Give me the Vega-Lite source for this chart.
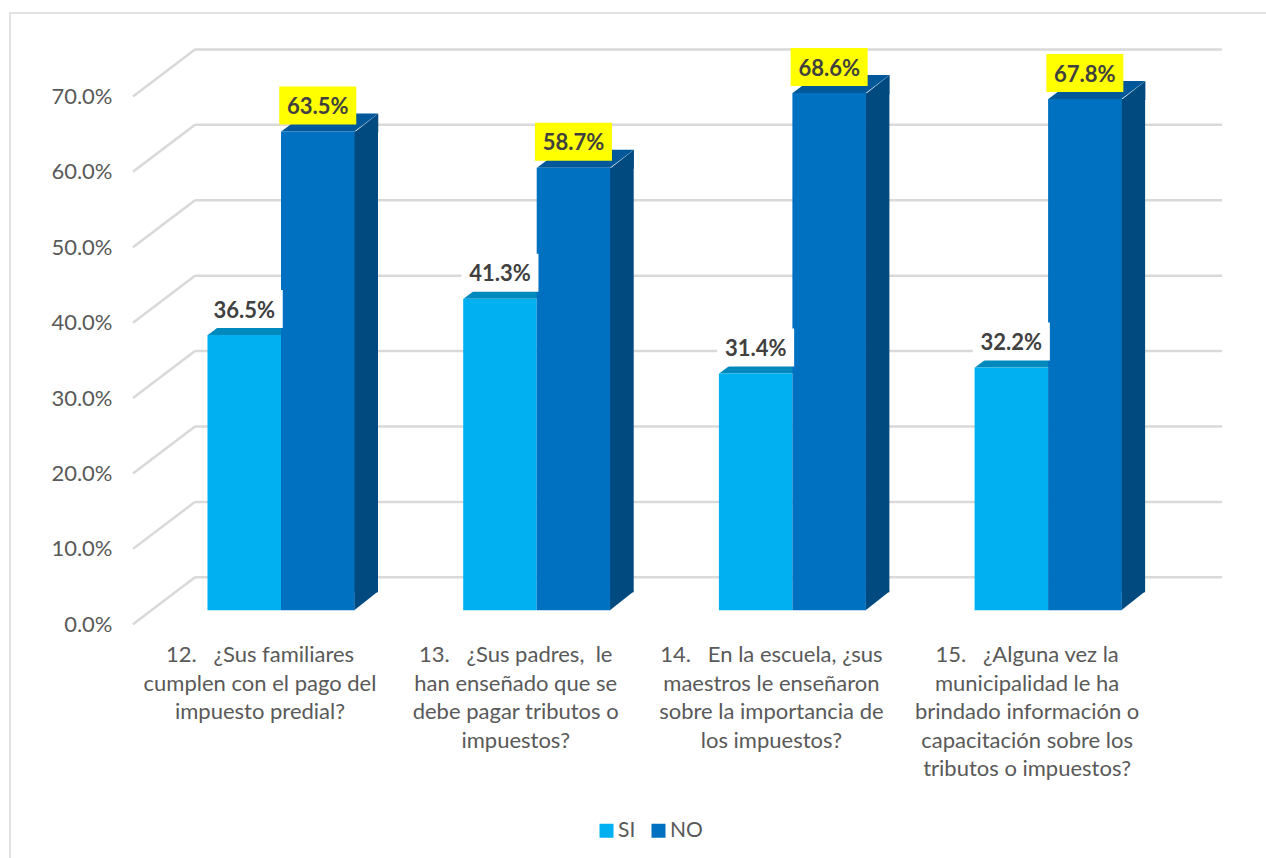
{
"$schema":"https://vega.github.io/schema/vega-lite/v6.json",
"width":1260,"height":850,"autosize":{"type":"none"},
"padding":{"left":10,"top":13,"right":0,"bottom":0},
"background":"white",
"view":{"stroke":"#d9d9d9","strokeWidth":1.5,"fill":"white"},
"datasets":{
"respuestas":[
{"pregunta":12,"serie":"SI","valor":0.365},{"pregunta":12,"serie":"NO","valor":0.635},
{"pregunta":13,"serie":"SI","valor":0.413},{"pregunta":13,"serie":"NO","valor":0.587},
{"pregunta":14,"serie":"SI","valor":0.314},{"pregunta":14,"serie":"NO","valor":0.686},
{"pregunta":15,"serie":"SI","valor":0.322},{"pregunta":15,"serie":"NO","valor":0.678}],
"marcas":[{"valor":0},{"valor":0.1},{"valor":0.2},{"valor":0.3},{"valor":0.4},{"valor":0.5},{"valor":0.6},{"valor":0.7}],
"etiquetas":[
{"pregunta":12,"texto":["12.\u00a0\u00a0\u00a0¿Sus familiares","cumplen con el pago del","impuesto predial?"]},
{"pregunta":13,"texto":["13.\u00a0\u00a0\u00a0¿Sus padres,\u00a0 le","han enseñado que se","debe pagar tributos o","impuestos?"]},
{"pregunta":14,"texto":["14.\u00a0\u00a0\u00a0En la escuela, ¿sus","maestros le enseñaron","sobre la importancia de","los impuestos?"]},
{"pregunta":15,"texto":["15.\u00a0\u00a0\u00a0¿Alguna vez la","municipalidad le ha","brindado información o","capacitación sobre los","tributos o impuestos?"]}]
},
"layer":[
{"data":{"name":"marcas"},"mark":{"type":"rule","color":"#d9d9d9","strokeWidth":2.5,"yOffset":-47},
 "encoding":{"x":{"datum":11.7458,"type":"quantitative","scale":{"domain":[11.0223,15.9499],"nice":false,"zero":false,"padding":0},"axis":null},"x2":{"datum":15.7622},
 "y":{"field":"valor","type":"quantitative","scale":{"domain":[-0.3166,0.8107],"nice":false,"zero":false,"padding":0},
 "axis":{"title":null,"values":[0,0.1,0.2,0.3,0.4,0.5,0.6,0.7],"format":".1%","offset":-110,"domain":false,"ticks":false,"grid":false,"labelPadding":8,"labelFont":"Lato","labelFontSize":22,"labelColor":"#595959"}}}},
{"data":{"name":"marcas"},"mark":{"type":"rule","color":"#d9d9d9","strokeWidth":2.5,"y2Offset":-47},
 "encoding":{"x":{"datum":11.5033,"type":"quantitative"},"x2":{"datum":11.7458},"y":{"field":"valor","type":"quantitative"},"y2":{"field":"valor"}}},
{"data":{"name":"respuestas"},"transform":[{"filter":"datum.serie=='NO'"}],"mark":{"type":"bar","width":24,"color":"#004a80","xOffset":106,"yOffset":-14,"y2Offset":-32},
 "encoding":{"x":{"field":"pregunta","type":"quantitative"},"y":{"field":"valor","type":"quantitative"},"y2":{"datum":0}}},
{"data":{"name":"respuestas"},"transform":[{"filter":"datum.serie=='NO'"}],"mark":{"type":"point","filled":true,"opacity":1,"size":4,"color":"#004a80","xOffset":57.75,"yOffset":-14,"shape":"M36.5,1L60.5,-18L60.5,1Z"},
 "encoding":{"x":{"field":"pregunta","type":"quantitative"},"y":{"field":"valor","type":"quantitative"}}},
{"data":{"name":"respuestas"},"transform":[{"filter":"datum.serie=='NO'"}],"mark":{"type":"point","filled":true,"opacity":1,"size":4,"color":"#004a80","xOffset":57.75,"yOffset":-14,"shape":"M36.5,0L36.5,-19L60.5,-19Z"},
 "encoding":{"x":{"field":"pregunta","type":"quantitative"},"y":{"datum":0,"type":"quantitative"}}},
{"data":{"name":"respuestas"},"mark":{"type":"point","filled":true,"opacity":1,"size":4,"xOffset":{"expr":"datum.serie=='SI'?-15.75:57.75"},"yOffset":-14,"shape":"M-36.5,0L36.5,0L60.5,-18L-12.5,-18Z"},
 "encoding":{"x":{"field":"pregunta","type":"quantitative"},"y":{"field":"valor","type":"quantitative"},"fill":{"condition":{"test":"datum.serie=='SI'","value":"#0089bc"},"value":"#00589a"}}},
{"data":{"name":"respuestas"},"mark":{"type":"bar","width":73.5,"xOffset":{"expr":"datum.serie=='SI'?-15.75:57.75"},"yOffset":-14,"y2Offset":-14},
 "encoding":{"x":{"field":"pregunta","type":"quantitative"},"y":{"field":"valor","type":"quantitative"},"y2":{"datum":0},"color":{"field":"serie","type":"nominal","scale":{"domain":["SI","NO"],"range":["#00b0f0","#0070c0"]},
 "legend":{"title":null,"orient":"none","legendX":586,"legendY":807,"direction":"horizontal","symbolType":"square","symbolSize":196,"labelFont":"Lato","labelFontSize":21,"labelColor":"#595959","columnPadding":12,"labelOffset":1}}}},
{"data":{"name":"respuestas"},"mark":{"type":"bar","width":77,"xOffset":{"expr":"datum.serie=='SI'?-15.75:57.75"},"yOffset":-59,"y2Offset":-21},
 "encoding":{"x":{"field":"pregunta","type":"quantitative"},"y":{"field":"valor","type":"quantitative"},"y2":{"field":"valor"},"fill":{"condition":{"test":"datum.serie=='SI'","value":"#ffffff"},"value":"#ffff00"}}},
{"data":{"name":"respuestas"},"mark":{"type":"text","font":"Lato","fontWeight":"bold","fontSize":22,"color":"#404040","baseline":"middle","xOffset":{"expr":"datum.serie=='SI'?-15.75:57.75"},"yOffset":-38.5},
 "encoding":{"x":{"field":"pregunta","type":"quantitative"},"y":{"field":"valor","type":"quantitative"},"text":{"field":"valor","type":"quantitative","format":".1%"}}},
{"data":{"name":"etiquetas"},"mark":{"type":"text","font":"Lato","fontSize":22,"color":"#595959","baseline":"top","align":"center","lineHeight":28.5,"dy":21},
 "encoding":{"x":{"field":"pregunta","type":"quantitative"},"y":{"datum":0,"type":"quantitative"},"text":{"field":"texto","type":"nominal"}}}
]
}
